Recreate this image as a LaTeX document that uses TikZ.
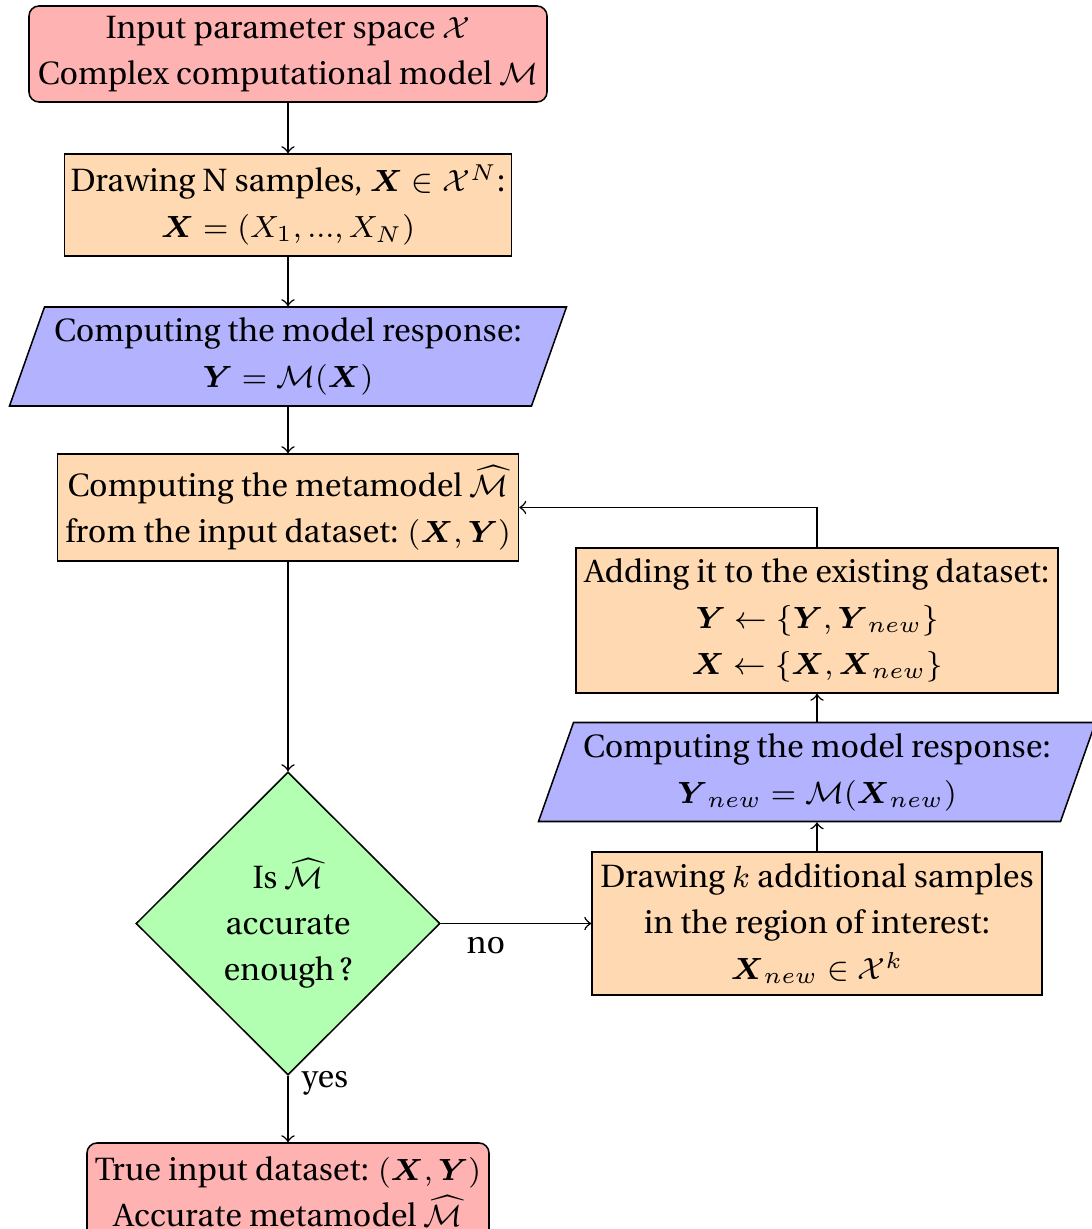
\documentclass[tikz,border=0pt]{standalone}
\usepackage{amsmath}
\IfFileExists{t1put.fd}{\usepackage[T1]{fontenc}\renewcommand{\rmdefault}{put}}{%
  \IfFileExists{t1futs.fd}{\usepackage[T1]{fontenc}\renewcommand{\rmdefault}{futs}}{%
    \usepackage{fontspec}\setmainfont{Liberation Serif}}}
\usetikzlibrary{shapes.geometric,calc}
\def\pxu{0.261pt}
\tikzset{
  startstop/.style={rectangle, rounded corners=2.6pt, draw, fill=red!30, align=center, inner sep=1pt},
  process/.style={rectangle, draw, fill=orange!30, align=center, inner sep=1pt},
  iofill/.style={draw, fill=blue!30},
  iotext/.style={rectangle, align=center, inner sep=0pt, minimum width=522*\pxu, minimum height=99*\pxu},
  decision/.style={diamond, draw, fill=green!30, align=center, inner sep=0pt, aspect=1},
  arr/.style={->}
}
\begin{document}
\begin{tikzpicture}[x=0.261pt, y=-0.261pt, font=\fontsize{8.4}{12}\selectfont]
\useasboundingbox (0,0) rectangle (1091,1229);
\node[startstop, minimum width=518*\pxu, minimum height=96*\pxu] (start) at (288,54)
  {Input parameter space $\mathcal{X}$\\Complex computational model $\mathcal{M}$};
\node[process, minimum width=447*\pxu, minimum height=102*\pxu] (samp) at (288,205)
  {Drawing N samples, $\boldsymbol{X}\in\mathcal{X}^N$:\\$\boldsymbol{X}=(X_1,...,X_N)$};
\coordinate (c1) at (288,356.5);
\draw[iofill] ($(c1)+(-243.5,-49.5)$) -- ($(c1)+(278.5,-49.5)$) -- ($(c1)+(243.5,49.5)$) -- ($(c1)+(-278.5,49.5)$) -- cycle;
\node[iotext] (resp) at (c1)
  {Computing the model response:\\$\boldsymbol{Y}=\mathcal{M}(\boldsymbol{X})$};
\node[process, minimum width=461*\pxu, minimum height=107*\pxu] (meta) at (288,507.5)
  {Computing the metamodel $\widehat{\mathcal{M}}$\\from the input dataset: $(\boldsymbol{X},\boldsymbol{Y})$};
\node[decision, minimum width=304*\pxu, minimum height=303*\pxu] (dec) at (288,923.5)
  {Is $\widehat{\mathcal{M}}$\\accurate\\enough\,?};
\node[startstop, minimum width=402*\pxu, minimum height=96*\pxu] (stop) at (288,1191)
  {True input dataset: $(\boldsymbol{X},\boldsymbol{Y})$\\Accurate metamodel $\widehat{\mathcal{M}}$};
\node[process, minimum width=450*\pxu, minimum height=143*\pxu] (addk) at (817,923.5)
  {Drawing $k$ additional samples\\in the region of interest:\\$\boldsymbol{X}_{new}\in\mathcal{X}^k$};
\coordinate (c2) at (817,772);
\draw[iofill] ($(c2)+(-243.5,-49.5)$) -- ($(c2)+(278.5,-49.5)$) -- ($(c2)+(243.5,49.5)$) -- ($(c2)+(-278.5,49.5)$) -- cycle;
\node[iotext] (resp2) at (c2)
  {Computing the model response:\\$\boldsymbol{Y}_{new}=\mathcal{M}(\boldsymbol{X}_{new})$};
\node[process, minimum width=482*\pxu, minimum height=145*\pxu] (add) at (817,620.5)
  {Adding it to the existing dataset:\\$\boldsymbol{Y}\leftarrow\{\boldsymbol{Y},\boldsymbol{Y}_{new}\}$\\$\boldsymbol{X}\leftarrow\{\boldsymbol{X},\boldsymbol{X}_{new}\}$};
\draw[arr] (start) -- (samp);
\draw[arr] (samp) -- (resp);
\draw[arr] (resp) -- (meta);
\draw[arr] (meta) -- (dec);
\draw[arr] (dec.east) -- node[below, pos=0.3] {no} (addk.west);
\draw[arr] (dec.south) -- node[right, pos=0.12] {yes} (stop.north);
\draw[arr] (addk) -- (resp2);
\draw[arr] (resp2) -- (add);
\draw[arr] (add.north) |- (meta.east);
\end{tikzpicture}
\end{document}
